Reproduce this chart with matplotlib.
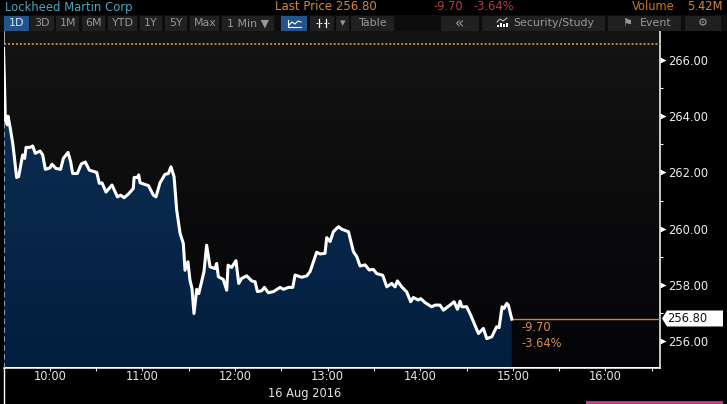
import numpy as np
import matplotlib
matplotlib.use('Agg')
import matplotlib.pyplot as plt
from matplotlib.patches import Rectangle, Polygon

# minutes after 09:30 and share price
minutes = [0, 0.75, 1.2, 2.5, 2.9, 4.2, 6.0, 7.0, 8.5, 9.8, 12.4, 13.7, 14.6, 17.2, 18.9, 20.6,
           23.7, 25.4, 27.1, 30.1, 31.4, 34.0, 37.0, 38.8, 41.8, 43.5, 44.8, 47.8, 50.4, 53.0,
           55.6, 60.4, 62.1, 63.8, 66.4, 70.3, 73.8, 75.9, 78.1, 80.9, 84.1, 84.6, 86.7, 87.6,
           88.5, 93.9, 97.1, 98.8, 101.4, 104.6, 106.8, 108.5, 110.5, 112.2, 114.4, 116.5,
           117.6, 119.5, 120.8, 122.1, 123.4, 125.2, 126.5, 129.9, 131.6, 133.8, 137.0, 138.1,
           139.2, 142.4, 144.6, 145.5, 147.8, 150.6, 152.4, 154.3, 157.6, 160.8, 163.0, 164.5,
           167.3, 169.0, 171.6, 174.9, 179.2, 181.3, 184.6, 187.4, 188.9, 193.2, 196.5, 198.6,
           202.9, 205.1, 208.3, 209.4, 211.6, 213.7, 217.0, 219.1, 223.5, 226.7, 228.9, 231.0,
           234.3, 236.9, 239.6, 241.8, 245.7, 248.3, 251.5, 253.7, 255.2, 258.0, 261.2, 263.8,
           265.5, 268.8, 270.3, 273.1, 277.4, 279.6, 282.8, 285.0, 289.3, 291.9, 294.1, 295.8,
           296.9, 300.1, 302.7, 307.7, 310.9, 313.1, 316.3, 319.5, 321.1, 323.0, 324.3, 326.0,
           327.1, 329.3]
price = [266.41, 264.93, 263.86, 263.69, 264.0, 263.63, 263.03, 262.56, 261.82, 261.85, 262.62,
         262.5, 262.89, 262.89, 262.94, 262.68, 262.76, 262.62, 262.11, 262.16, 262.29, 262.14,
         262.11, 262.5, 262.71, 262.38, 261.96, 261.96, 262.30, 262.37, 262.08, 262.0, 261.61,
         261.63, 261.30, 261.55, 261.13, 261.19, 261.10, 261.23, 261.43, 261.82, 261.82, 261.91,
         261.63, 261.53, 261.19, 261.13, 261.63, 261.93, 261.96, 262.2, 261.85, 260.66, 259.83,
         259.47, 258.52, 258.82, 258.17, 257.87, 256.98, 257.84, 257.69, 258.47, 259.41, 258.64,
         258.58, 258.76, 258.29, 258.19, 257.81, 258.70, 258.62, 258.86, 258.05, 258.23, 258.32,
         258.14, 258.11, 257.76, 257.79, 257.91, 257.72, 257.76, 257.91, 257.84, 257.91, 257.91,
         258.35, 258.27, 258.32, 258.47, 259.16, 259.10, 259.12, 259.68, 259.54, 259.89, 260.07,
         259.98, 259.89, 259.18, 259.0, 258.67, 258.71, 258.53, 258.55, 258.40, 258.34, 257.93,
         258.05, 257.93, 258.14, 257.93, 257.75, 257.40, 257.55, 257.46, 257.51, 257.37, 257.22,
         257.28, 257.28, 257.10, 257.28, 257.40, 257.13, 257.42, 257.22, 257.22, 256.92, 256.27,
         256.45, 256.09, 256.15, 256.51, 256.48, 257.22, 257.16, 257.34, 257.28, 256.78]

hour_ticks = [30, 90, 150, 210, 270, 330, 390]
hour_labels = ['10:00', '11:00', '12:00', '13:00', '14:00', '15:00', '16:00']
half_ticks = [60, 120, 180, 240, 300, 360, 420]
price_ticks = [256, 258, 260, 262, 264, 266]
odd_ticks = [257, 259, 261, 263, 265]
last_price = 256.80
high_line = 266.55

# label, left, right, text centre
buttons = [('1D', 4, 30, 17), ('3D', 30, 55, 42), ('1M', 56, 80, 68), ('6M', 82, 106, 94),
           ('YTD', 108, 138, 123), ('1Y', 140, 163, 151), ('5Y', 165, 188, 176), ('Max', 190, 220, 205),
           ('1 Min ▼', 222, 275, 248), ('', 281, 308, 294), ('', 310, 335, 322), ('▾', 336, 350, 343),
           ('Table', 351, 395, 373), ('«', 441, 480, 460), ('Security/Study', 482, 606, 554),
           ('⚑', 608, 682, 627), ('Event', 608, 682, 656), ('⚙', 685, 722, 703)]

W, H = 727, 404
fig = plt.figure(figsize=(W / 100, H / 100), dpi=100, facecolor='#000000')

ax = fig.add_axes([3.5 / W, 1 - 367.5 / H, 656 / W, 336.5 / H])
ax.set_xlim(0, 425)
ax.set_ylim(255.06, 267.03)

# background and area gradients
top, bottom = np.array([20, 20, 20]) / 255, np.array([4, 4, 7]) / 255
grad = np.linspace(0, 1, 256)[:, None, None]
ax.imshow(top + (bottom - top) * grad, extent=[0, 425, 255.06, 267.03], aspect='auto', zorder=0)

top, bottom = np.array([12, 46, 82]) / 255, np.array([2, 30, 62]) / 255
grad = np.linspace(0, 1, 256)[:, None, None]
im = ax.imshow(top + (bottom - top) * grad, extent=[0, 425, 255.06, 264.5], aspect='auto', zorder=1)
ax.set_xlim(0, 425)
ax.set_ylim(255.06, 267.03)
area = Polygon(list(zip(minutes, price)) + [(minutes[-1], 255.06), (0, 255.06)],
               closed=True, transform=ax.transData, fc='none', ec='none')
ax.add_patch(area)
im.set_clip_path(area)

ax.plot(minutes, price, color='white', lw=2.2, zorder=4, solid_joinstyle='round')
ax.axhline(high_line, color='#d98a45', lw=1.3, ls=(0, (1.1, 1.1)), zorder=3)
ax.hlines(last_price, minutes[-1], 425, color='#c9813f', lw=1, zorder=3)
ax.vlines(0.4, 255.06, 264, color='#8a97a8', lw=0.8, ls=(0, (5, 3)), zorder=3)

ax.text(minutes[-1] + 6, 256.5, '-9.70', color='#d9904f', fontsize=8.3, va='center', zorder=5)
ax.text(minutes[-1] + 6, 255.93, '-3.64%', color='#d9904f', fontsize=8.3, va='center', zorder=5)

ax.spines['top'].set_visible(False)
ax.spines['left'].set_visible(False)
for side in ['right', 'bottom']:
    ax.spines[side].set_color('white')
    ax.spines[side].set_linewidth(1.1)

ax.set_xticks(hour_ticks, hour_labels)
ax.set_xticks(half_ticks, minor=True)
ax.tick_params(axis='x', which='both', colors='#e4e4e4', length=2, width=0.8, labelsize=8.3, pad=0)
ax.yaxis.tick_right()
ax.set_yticks(price_ticks, ['%.2f' % p for p in price_ticks])
ax.set_yticks(odd_ticks, minor=True)
ax.tick_params(axis='y', which='major', colors='#eeeeee', length=0, labelsize=8.3, pad=6)
ax.tick_params(axis='y', which='minor', colors='white', length=2, width=0.8)
ax.plot([1.006] * len(price_ticks), price_ticks, ls='none', marker='>', ms=4.2, color='white',
        mec='none', clip_on=False, transform=ax.get_yaxis_transform(), zorder=6)

# everything around the chart is placed in image pixels
ui = fig.add_axes([0, 0, 1, 1], zorder=5)
ui.set_xlim(0, W)
ui.set_ylim(H, 0)
ui.axis('off')

ui.text(5, 7, 'Lockheed Martin Corp', color='#45a9bd', fontsize=8.4, va='center')
ui.text(275, 7, 'Last Price 256.80', color='#d8853a', fontsize=8.5, va='center')
ui.text(433, 7, '-9.70', color='#b83a45', fontsize=8.3, va='center')
ui.text(473, 7, '-3.64%', color='#b83a45', fontsize=8.3, va='center')
ui.text(632, 7, 'Volume', color='#c9781f', fontsize=8.3, va='center')
ui.text(687, 7, '5.42M', color='#d8853a', fontsize=8.3, va='center')

ui.add_patch(Rectangle((0, 15), W, 16, fc='#0d0d0d', ec='none'))
drawn = set()
for label, left, right, centre in buttons:
    blue = label == '1D' or left == 281
    if left not in drawn:
        ui.add_patch(Rectangle((left, 15.5), right - left - 1, 15, fc='#24558a' if blue else '#202020', ec='none'))
        drawn.add(left)
    size = 11 if label == '«' else 7.9
    ui.text(centre, 23.2, label, color='#d8e4f0' if blue else '#989898', fontsize=size,
            ha='center', va='center', family=['DejaVu Sans'])
ui.plot([288, 288, 301], [20, 27, 27], color='white', lw=0.8)
ui.plot([289, 292, 295, 298, 301], [25, 22, 24, 21, 22], color='white', lw=0.8)
ui.plot([319, 319], [19, 27], color='white', lw=0.9)
ui.plot([326, 326], [19, 27], color='white', lw=0.9)
ui.plot([316, 319, 326, 329], [23, 23, 23, 23], color='white', lw=0.7, ls=(0, (2, 2)))
for bar, height in zip([497, 500, 503, 506], [2, 4, 3, 4]):
    ui.add_patch(Rectangle((bar, 27 - height), 2, height, fc='white', ec='none'))
ui.plot([497, 500, 503, 507], [22, 19, 21, 18], color='#d0d0d0', lw=0.7)

ui.text(305, 393, '16 Aug 2016', color='#e4e4e4', fontsize=8.3, ha='center', va='center')
ui.plot([3.5, 3.5], [367.5, 404], color='white', lw=1)
ui.plot([3.5, 3.5], [31, 44], color='#aaaaaa', lw=0.7)

ui.add_patch(Polygon([(662, 318.5), (667, 310.5), (723, 310.5), (723, 326.5), (667, 326.5)], fc='white', ec='none'))
ui.text(687, 319, '%.2f' % last_price, color='#101010', fontsize=8.3, ha='center', va='center')
ui.add_patch(Rectangle((586, 401), 137, 3, fc='#d0347f', ec='none'))

fig.savefig('out.png', dpi=100, facecolor=fig.get_facecolor())
